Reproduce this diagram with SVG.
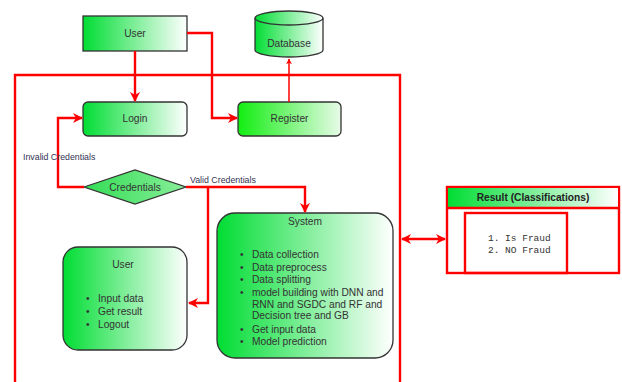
<svg xmlns="http://www.w3.org/2000/svg" width="622" height="382" viewBox="0 0 622 382">
<defs>
<linearGradient id="g1" x1="0" y1="0" x2="1" y2="0">
<stop offset="0" stop-color="#00dd33"/>
<stop offset="1" stop-color="#ffffff"/>
</linearGradient>
<linearGradient id="g2" x1="0" y1="0" x2="1" y2="0">
<stop offset="0" stop-color="#11ee11"/>
<stop offset="1" stop-color="#e8fbe8"/>
</linearGradient>
<linearGradient id="g3" x1="0" y1="0" x2="1" y2="0">
<stop offset="0" stop-color="#33dd55"/>
<stop offset="1" stop-color="#88ee99"/>
</linearGradient>
<marker id="ah" viewBox="0 0 10 10" refX="9" refY="5" markerWidth="4.2" markerHeight="4.2" orient="auto-start-reverse" markerUnits="strokeWidth">
<path d="M0,0 L10,5 L0,10 L3,5 Z" fill="#ff0000"/>
</marker>
<marker id="ah2" viewBox="0 0 10 10" refX="9" refY="5" markerWidth="4" markerHeight="4" orient="auto" markerUnits="strokeWidth">
<path d="M0,0 L10,5 L0,10 L3,5 Z" fill="#ff0000"/>
</marker>
</defs>
<style>
text{font-family:"Liberation Sans",Arial,sans-serif;font-size:10.2px;fill:#333333}
.c{text-anchor:middle}
.box{stroke:#333333;stroke-width:1.3}
.ln{fill:none;stroke:#ff0000;stroke-width:2.4}
.fr{fill:none;stroke:#ff0000;stroke-width:2.4}
.lbl{font-size:8.8px;fill:#333355}
.mono{font-family:"Liberation Mono","Courier New",monospace;font-size:9.5px}
</style>

<g id="frame">
<path class="fr" d="M15,382 V75 H400 V382"/>
</g>

<g id="user-top">
<rect class="box" x="83" y="16" width="104" height="35" fill="url(#g1)"/>
<text class="c" x="135" y="37">User</text>
</g>

<g id="database">
<path class="box" d="M255,18 V50 A34,7 0 0 0 323,50 V18" fill="url(#g1)"/>
<ellipse class="box" cx="289" cy="18" rx="34" ry="7" fill="url(#g1)"/>
<text class="c" x="289" y="47">Database</text>
</g>

<g id="login">
<rect class="box" x="83" y="102" width="104" height="34" rx="5" fill="url(#g1)"/>
<text class="c" x="135" y="122">Login</text>
</g>

<g id="register">
<rect class="box" x="238" y="102" width="103" height="34" rx="5" fill="url(#g2)"/>
<text class="c" x="289.5" y="122">Register</text>
</g>

<g id="credentials">
<polygon class="box" points="84,187 135,170 186,187 135,204" fill="url(#g3)"/>
<text class="c" x="135" y="190.5">Credentials</text>
</g>

<g id="user-bottom">
<rect class="box" x="63" y="247" width="124" height="103" rx="15" fill="url(#g1)"/>
<text class="c" x="123" y="268">User</text>
<text x="86" y="302">•</text><text x="98" y="302">Input data</text>
<text x="86" y="315">•</text><text x="98" y="315">Get result</text>
<text x="86" y="328">•</text><text x="98" y="328">Logout</text>
</g>

<g id="system">
<rect class="box" x="217" y="213" width="176" height="145" rx="18" fill="url(#g1)"/>
<text class="c" x="305" y="225">System</text>
<text x="240" y="258">•</text><text x="252" y="258">Data collection</text>
<text x="240" y="271">•</text><text x="252" y="271">Data preprocess</text>
<text x="240" y="283">•</text><text x="252" y="283">Data splitting</text>
<text x="240" y="296">•</text><text x="252" y="296">model building with DNN and</text>
<text x="252" y="308">RNN and SGDC and RF and</text>
<text x="252" y="319">Decision tree and GB</text>
<text x="240" y="333">•</text><text x="252" y="333">Get input data</text>
<text x="240" y="345">•</text><text x="252" y="345">Model prediction</text>
</g>

<g id="result">
<rect x="447" y="187" width="172" height="86" fill="#ffffff" stroke="#ff0000" stroke-width="2.4"/>
<rect x="448" y="188" width="170" height="20" fill="url(#g1)"/>
<line x1="447" y1="208" x2="619" y2="208" stroke="#ff0000" stroke-width="2.4"/>
<text class="c" x="533" y="201" style="font-weight:bold;fill:#222">Result (Classifications)</text>
<rect x="465" y="213" width="102" height="60" fill="none" stroke="#ff0000" stroke-width="2.4"/>
<text class="mono" x="488" y="241">1. Is Fraud</text>
<text class="mono" x="488" y="253">2. NO Fraud</text>
</g>

<g id="connectors">
<path class="ln" d="M135,51 V101" marker-end="url(#ah)"/>
<path class="ln" d="M187,33 H212 V118 H237" marker-end="url(#ah)"/>
<path d="M289,102 V59" fill="none" stroke="#ff0000" stroke-width="1.5" marker-end="url(#ah2)"/>
<path class="ln" d="M84,187 H58 V118 H82" marker-end="url(#ah)"/>
<path class="ln" d="M186,187 H305 V212" marker-end="url(#ah)"/>
<path class="ln" d="M208,187 V303 H189" marker-end="url(#ah)"/>
<path class="ln" d="M402,239 H445" marker-start="url(#ah)" marker-end="url(#ah)"/>
<text class="lbl" x="23" y="160">Invalid Credentials</text>
<text class="lbl" x="190" y="183">Valid Credentials</text>
</g>
</svg>
